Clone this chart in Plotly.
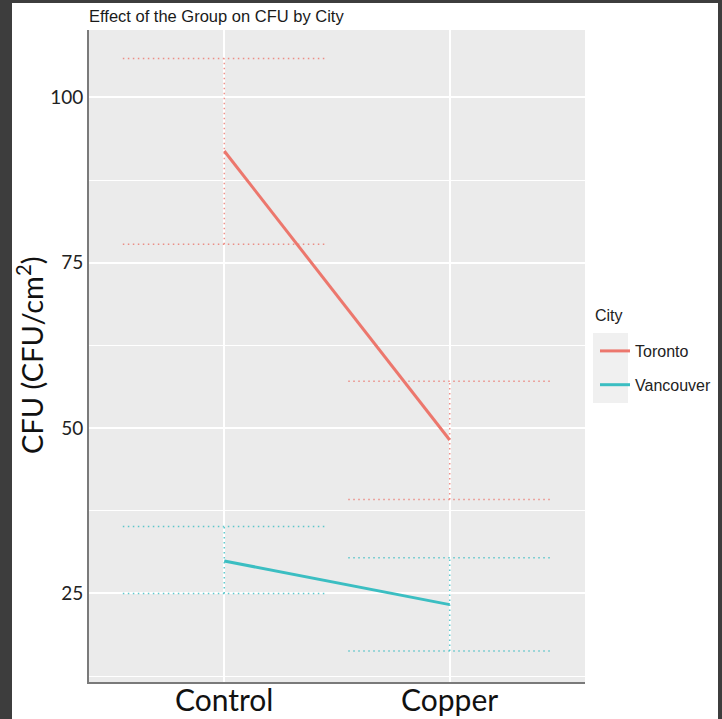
import plotly.graph_objects as go

# ---- data ----
groups = ["Control", "Copper"]
cities = ["Toronto", "Vancouver"]
means = {"Toronto": [91.9, 48.2], "Vancouver": [29.9, 23.3]}
upper = {"Toronto": [105.9, 57.1], "Vancouver": [35.1, 30.4]}
lower = {"Toronto": [77.8, 39.2], "Vancouver": [25.0, 16.3]}
y_ticks = [25, 50, 75, 100]
y_minor = [12.5, 37.5, 62.5, 87.5]

colors = {"Toronto": "#EC776D", "Vancouver": "#3BBEC2"}
W, H = 722, 719
ML, MR, MT, MB = 89, 137, 30, 37
PW = W - ML - MR
PH = H - MT - MB
half = 0.45

xpos = list(range(len(groups)))
fig = go.Figure()

for c in cities:
    col = colors[c]
    for i, g in enumerate(groups):
        fig.add_trace(go.Scatter(x=[xpos[i], xpos[i]], y=[lower[c][i], upper[c][i]], mode="lines",
                                 line=dict(color=col, width=1.5, dash="1.5px,3.5px"),
                                 opacity=0.8, showlegend=False, hoverinfo="skip"))
        for v in (lower[c][i], upper[c][i]):
            fig.add_trace(go.Scatter(x=[xpos[i] - half, xpos[i] + half], y=[v, v], mode="lines",
                                     line=dict(color=col, width=1.5, dash="1.5px,3.5px"),
                                     opacity=0.8, showlegend=False, hoverinfo="skip"))

for c in cities:
    fig.add_trace(go.Scatter(x=xpos, y=means[c], mode="lines", name=c, legendgroup=c,
                             line=dict(color=colors[c], width=3)))

def px_x(p):
    return (p - ML) / PW

def px_y(p):
    return (H - MB - p) / PH

shapes = [
    dict(type="rect", xref="paper", yref="paper", x0=px_x(0), x1=px_x(12), y0=px_y(H), y1=px_y(0),
         fillcolor="#3d3d3d", line_width=0, layer="above"),
    dict(type="rect", xref="paper", yref="paper", x0=px_x(0), x1=px_x(W), y0=px_y(3), y1=px_y(0),
         fillcolor="#3d3d3d", line_width=0, layer="above"),
    dict(type="rect", xref="paper", yref="paper", x0=px_x(718), x1=px_x(W), y0=px_y(H), y1=px_y(0),
         fillcolor="#3d3d3d", line_width=0, layer="above"),
    dict(type="rect", xref="paper", yref="paper", x0=px_x(593), x1=px_x(628), y0=px_y(403), y1=px_y(333),
         fillcolor="#F0F0F0", line_width=0, layer="below"),
]

annotations = [
    dict(text="CFU (CFU/cm<sup>2</sup>)", xref="paper", yref="paper", x=px_x(30), y=0.5,
         xanchor="center", yanchor="middle", textangle=-90, showarrow=False,
         font=dict(family="Lato", size=29, color="#111")),
    dict(text="City", xref="paper", yref="paper", x=px_x(593), y=px_y(315),
         xanchor="left", yanchor="middle", showarrow=False,
         font=dict(family="Liberation Sans, Arial", size=16, color="#222")),
]
for i, g in enumerate(groups):
    annotations.append(dict(text=g, xref="x", yref="paper", x=xpos[i], y=px_y(699),
                            xanchor="center", yanchor="middle", showarrow=False,
                            font=dict(family="Lato", size=30, color="#111")))

fig.update_layout(
    width=W, height=H, autosize=False,
    margin=dict(l=ML, r=MR, t=MT, b=MB, pad=0, autoexpand=False),
    paper_bgcolor="white", plot_bgcolor="#EBEBEB",
    title=dict(text="Effect of the Group on CFU by City", x=ML / W, xanchor="left",
               xref="container", y=1 - 16 / H, yanchor="middle", yref="container",
               font=dict(family="Liberation Sans, Arial", size=16.5, color="#1a1a1a")),
    xaxis=dict(range=[-0.6, 1.6], tickvals=xpos, showticklabels=False, showgrid=True,
               gridcolor="white", gridwidth=1.5, zeroline=False, showline=True,
               linecolor="#7a7a7a", linewidth=2, ticks="", automargin=False),
    yaxis=dict(range=[11.6, 110.2], tickvals=y_ticks, showgrid=True, gridcolor="white",
               gridwidth=1.5, zeroline=False, showline=True, linecolor="#7a7a7a", linewidth=2,
               ticks="", tickfont=dict(family="Lato", size=19, color="#222"), automargin=False,
               minor=dict(tickvals=y_minor, showgrid=True, gridcolor="white", gridwidth=0.7)),
    legend=dict(x=px_x(595), y=px_y(334), xanchor="left", yanchor="top",
                font=dict(family="Liberation Sans, Arial", size=16, color="#222"),
                bgcolor="rgba(0,0,0,0)", tracegroupgap=10, itemwidth=30),
    shapes=shapes,
    annotations=annotations,
)

fig.write_html("out.html", config={"responsive": False, "displayModeBar": False},
               post_script="document.body.style.margin='0';document.body.style.overflow='hidden';")
